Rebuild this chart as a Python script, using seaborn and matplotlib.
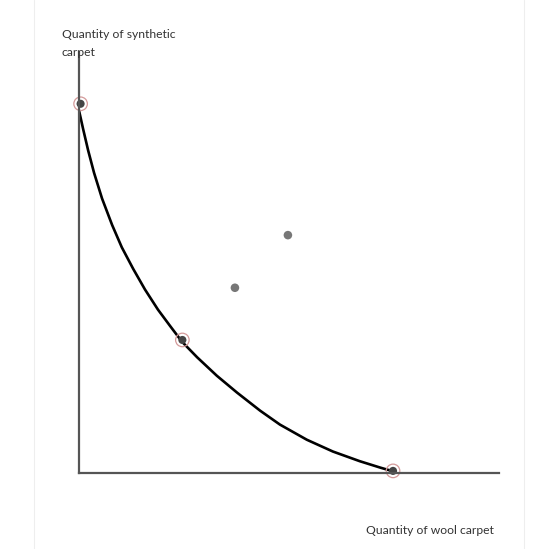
import matplotlib
matplotlib.use("Agg")
import matplotlib.pyplot as plt
import seaborn as sns
import pandas as pd
from matplotlib.lines import Line2D

sns.set_theme(style="white")
plt.rcParams['font.family'] = ['Lato', 'DejaVu Sans']

# Production possibility curve
curve_x = [0.01, 0.11, 0.23, 0.37, 0.56, 0.80, 1.03, 1.30, 1.58, 1.89, 2.18, 2.46,
           2.82, 3.29, 3.77, 4.32, 4.79, 5.43, 6.05, 6.69, 7.17, 7.48]
curve_y = [8.62, 8.17, 7.66, 7.13, 6.52, 5.89, 5.36, 4.85, 4.36, 3.88, 3.49, 3.12,
           2.75, 2.31, 1.91, 1.48, 1.15, 0.79, 0.51, 0.28, 0.13, 0.04]

# Highlighted points on the curve
on_x = [0.05, 2.47, 7.48]
on_y = [8.77, 3.16, 0.05]

# Points off the curve
off_x = [3.72, 4.98]
off_y = [4.40, 5.65]

x_label = "Quantity of wool carpet"
y_label = "Quantity of synthetic\ncarpet"

W, H = 560, 549
fig = plt.figure(figsize=(W / 100, H / 100), dpi=100)
left, right, bottom, top = 78.5, 499, 473, 52
ax = fig.add_axes([left / W, (H - bottom) / H, (right - left) / W, (bottom - top) / H])
ax.set_xlim(0, 10)
ax.set_ylim(0, 10)

curve_df = pd.DataFrame({"x": curve_x, "y": curve_y})
sns.lineplot(data=curve_df, x="x", y="y", sort=False, color="black", lw=1.9, ax=ax, zorder=3)
for l in ax.lines:
    l.set_solid_joinstyle("round")
    l.set_solid_capstyle("round")

sns.scatterplot(x=off_x, y=off_y, s=38, color="#777777", edgecolor="none", ax=ax, zorder=4)
sns.scatterplot(x=on_x, y=on_y, s=34, color="#444444", edgecolor="none", ax=ax, zorder=4, clip_on=False)
sns.scatterplot(x=on_x, y=on_y, s=95, facecolor="none", edgecolor="#d49a9a", linewidth=0.9, ax=ax, zorder=5, clip_on=False)

for sp in ["top", "right"]:
    ax.spines[sp].set_visible(False)
for sp in ["left", "bottom"]:
    ax.spines[sp].set_color("#555555")
    ax.spines[sp].set_linewidth(1.6)
    ax.spines[sp].set_zorder(6)
ax.set_xticks([])
ax.set_yticks([])
ax.set_xlabel("")
ax.set_ylabel("")

fig.text(62 / W, 1 - 29.5 / H, y_label, ha="left", va="top", fontsize=8.7, color="#333333", linespacing=1.75)
fig.text(494 / W, 1 - 531 / H, x_label, ha="right", va="center", fontsize=8.7, color="#333333")

# faint page borders
for xp in [34, 524]:
    fig.add_artist(Line2D([xp / W, xp / W], [0, 1], color="#eeeeee", lw=0.8))

fig.savefig("out.png", dpi=100)
